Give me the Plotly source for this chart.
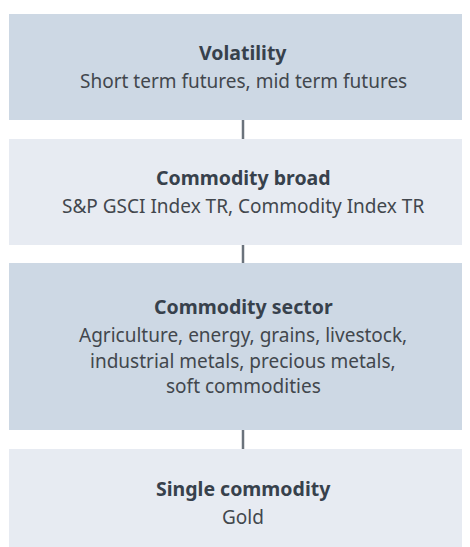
import plotly.graph_objects as go

# diagram content
titles = ["Volatility", "Commodity broad", "Commodity sector", "Single commodity"]
bodies = [
    ["Short term futures, mid term futures"],
    ["S&P GSCI Index TR, Commodity Index TR"],
    ["Agriculture, energy, grains, livestock,", "industrial metals, precious metals,", "soft commodities"],
    ["Gold"],
]

# layout (pixels, page body adds an 8px offset)
W, H = 470, 547
box_top = [6, 131, 255, 441]
box_bottom = [112, 237, 422, 548]
fills = ["#cdd8e4", "#e7ebf2", "#cdd8e4", "#e7ebf2"]
x_left, x_right = 1, W
x_mid = 235
title_gap = 28.5
line_gap = 25.5

fig = go.Figure()

shapes = []
annotations = []
for i, title in enumerate(titles):
    shapes.append(dict(type="rect", x0=x_left, x1=x_right, y0=box_top[i], y1=box_bottom[i],
                       xref="x", yref="y", fillcolor=fills[i], line=dict(width=0), layer="below"))
    if i < len(titles) - 1:
        shapes.append(dict(type="line", x0=x_mid, x1=x_mid, y0=box_bottom[i], y1=box_top[i + 1],
                           xref="x", yref="y", line=dict(color="#6b737c", width=2.5)))
    # text block centred vertically in its box
    block = title_gap + line_gap * (len(bodies[i]) - 1)
    y = (box_top[i] + box_bottom[i]) / 2 - block / 2
    annotations.append(dict(x=x_mid, y=y, xref="x", yref="y", text=f"<b>{title}</b>",
                            showarrow=False, font=dict(size=19.5, color="#37414c")))
    for k, line in enumerate(bodies[i]):
        y += title_gap if k == 0 else line_gap
        annotations.append(dict(x=x_mid, y=y, xref="x", yref="y", text=line,
                                showarrow=False, font=dict(size=19, color="#42474d")))

fig.update_layout(
    width=W, height=H,
    margin=dict(l=0, r=0, t=0, b=0),
    paper_bgcolor="white", plot_bgcolor="white",
    font=dict(family="Noto Sans"),
    shapes=shapes, annotations=annotations,
    xaxis=dict(range=[0, W], visible=False, fixedrange=True),
    yaxis=dict(range=[H, 0], visible=False, fixedrange=True),
    showlegend=False,
)

fig.write_html("out.html", config={"displayModeBar": False})
